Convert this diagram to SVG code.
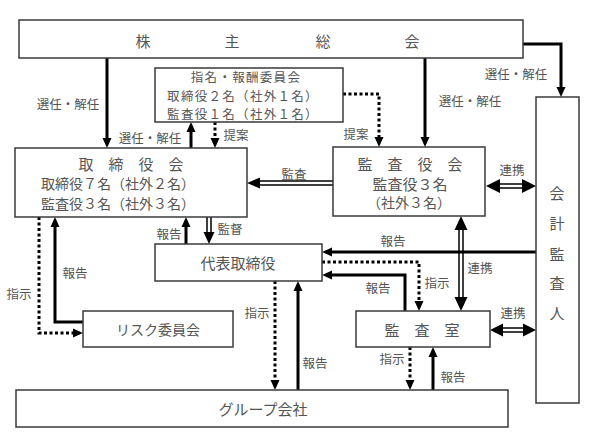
<svg xmlns="http://www.w3.org/2000/svg" width="593" height="442" viewBox="0 0 593 442">
<style>
.box{fill:#fff;stroke:#3a3a3a;stroke-width:1.5}
text{font-family:"Noto Sans CJK JP","Noto Sans CJK SC",sans-serif;fill:#555;text-anchor:middle;dominant-baseline:central}
.t{font-size:14px}
.tn{font-size:12.5px;letter-spacing:1.3px}
.t15{font-size:15px}
.lb{font-size:12.5px}
.s{fill:none;stroke:#000;stroke-width:3;marker-end:url(#ah)}
.d{fill:none;stroke:#000;stroke-width:3;stroke-dasharray:3 2.5;marker-end:url(#ah)}
.w{fill:none;stroke:#000;stroke-width:1.5}
.h{fill:#000}
</style>
<defs>
<marker id="ah" markerUnits="userSpaceOnUse" markerWidth="10" markerHeight="10" viewBox="0 0 10 10" refX="3" refY="5" orient="auto">
<path d="M0,0.5 L10,5 L0,9.5 z" fill="#000"/>
</marker>
</defs>
<rect width="593" height="442" fill="#fff"/>

<g id="connectors">
<path class="s" d="M107,58 V141"/>
<path class="s" d="M191,148 V129"/>
<path class="d" d="M215,122 V141"/>
<path class="d" d="M343,94 H379 V140"/>
<path class="s" d="M425,58 V140"/>
<path class="s" d="M523,44 H561 V90"/>
<path class="s" d="M186,244 V224"/>
<path class="s" d="M536,252 H329"/>
<path class="d" d="M322,262 H419 V304"/>
<path class="s" d="M405,311 V275 H329"/>
<path class="d" d="M39,217 V333 H76"/>
<path class="s" d="M83,322 H55 V224"/>
<path class="d" d="M275,281 V383"/>
<path class="s" d="M298,390 V288"/>
<path class="d" d="M410,347 V383"/>
<path class="s" d="M433,390 V354"/>
<path class="w" d="M333,181 H259 M333,185 H259"/>
<polygon class="h" points="247,183 260,177.5 260,188.5"/>
<path class="w" d="M207,217 V233 M211,217 V233"/>
<polygon class="h" points="209,244 203.5,232 214.5,232"/>
<path class="w" d="M499,184 H523 M499,188 H523"/>
<polygon class="h" points="486,186 500,179 500,193"/>
<polygon class="h" points="536,186 522,179 522,193"/>
<path class="w" d="M459,229 V298 M463,229 V298"/>
<polygon class="h" points="461,216 454.5,230 467.5,230"/>
<polygon class="h" points="461,311 454.5,297 467.5,297"/>
<path class="w" d="M502,328 H524 M502,332 H524"/>
<polygon class="h" points="490,330 503,323.5 503,336.5"/>
<polygon class="h" points="536,330 523,323.5 523,336.5"/>
<text class="lb" x="68" y="103">選任・解任</text>
<text class="lb" x="150" y="137">選任・解任</text>
<text class="lb" x="236" y="134">提案</text>
<text class="lb" x="356" y="133">提案</text>
<text class="lb" x="470" y="100">選任・解任</text>
<text class="lb" x="516" y="73">選任・解任</text>
<text class="lb" x="294" y="173">監査</text>
<text class="lb" x="512" y="169">連携</text>
<text class="lb" x="169" y="233">報告</text>
<text class="lb" x="230" y="228">監督</text>
<text class="lb" x="393" y="240">報告</text>
<text class="lb" x="437" y="282">指示</text>
<text class="lb" x="378" y="287">報告</text>
<text class="lb" x="480" y="267">連携</text>
<text class="lb" x="513" y="312">連携</text>
<text class="lb" x="19" y="293">指示</text>
<text class="lb" x="75" y="272">報告</text>
<text class="lb" x="257" y="312">指示</text>
<text class="lb" x="315" y="362">報告</text>
<text class="lb" x="392" y="358">指示</text>
<text class="lb" x="453" y="376">報告</text>
</g>

<g id="shareholders">
<rect class="box" x="19" y="20" width="504" height="38"/>
<text class="t15" x="143" y="40">株</text>
<text class="t15" x="232" y="40">主</text>
<text class="t15" x="323" y="40">総</text>
<text class="t15" x="412" y="40">会</text>
</g>

<g id="nomination">
<rect class="box" x="155" y="68" width="188" height="54"/>
<text class="tn" x="246" y="76.5">指名・報酬委員会</text>
<text class="tn" x="243" y="95">取締役２名（社外１名）</text>
<text class="tn" x="243" y="113.5">監査役１名（社外１名）</text>
</g>

<g id="board">
<rect class="box" x="15" y="148" width="232" height="69"/>
<text class="t15" x="131" y="163">取　締　役　会</text>
<text class="t" x="118" y="183">取締役７名（社外２名）</text>
<text class="t" x="118" y="203">監査役３名（社外３名）</text>
</g>

<g id="audit-board">
<rect class="box" x="333" y="147" width="152" height="69"/>
<text class="t15" x="410" y="163">監　査　役　会</text>
<text class="t15" x="410" y="183">監査役３名</text>
<text class="t" x="409" y="202">（社外３名）</text>
</g>

<g id="accounting-auditor">
<rect class="box" x="536" y="97" width="43" height="306"/>
<text class="t15" x="557" y="192">会</text>
<text class="t15" x="557" y="222">計</text>
<text class="t15" x="557" y="253">監</text>
<text class="t15" x="557" y="282">査</text>
<text class="t15" x="557" y="312">人</text>
</g>

<g id="representative">
<rect class="box" x="155" y="244" width="167" height="37"/>
<text class="t15" x="238" y="262">代表取締役</text>
</g>

<g id="risk-committee">
<rect class="box" x="83" y="311" width="150" height="36"/>
<text class="t" x="158" y="329">リスク委員会</text>
</g>

<g id="audit-office">
<rect class="box" x="356" y="311" width="134" height="36"/>
<text class="t15" x="422" y="329">監　査　室</text>
</g>

<g id="group-companies">
<rect class="box" x="16" y="390" width="492" height="37"/>
<text class="t15" x="263" y="408">グループ会社</text>
</g>
</svg>
